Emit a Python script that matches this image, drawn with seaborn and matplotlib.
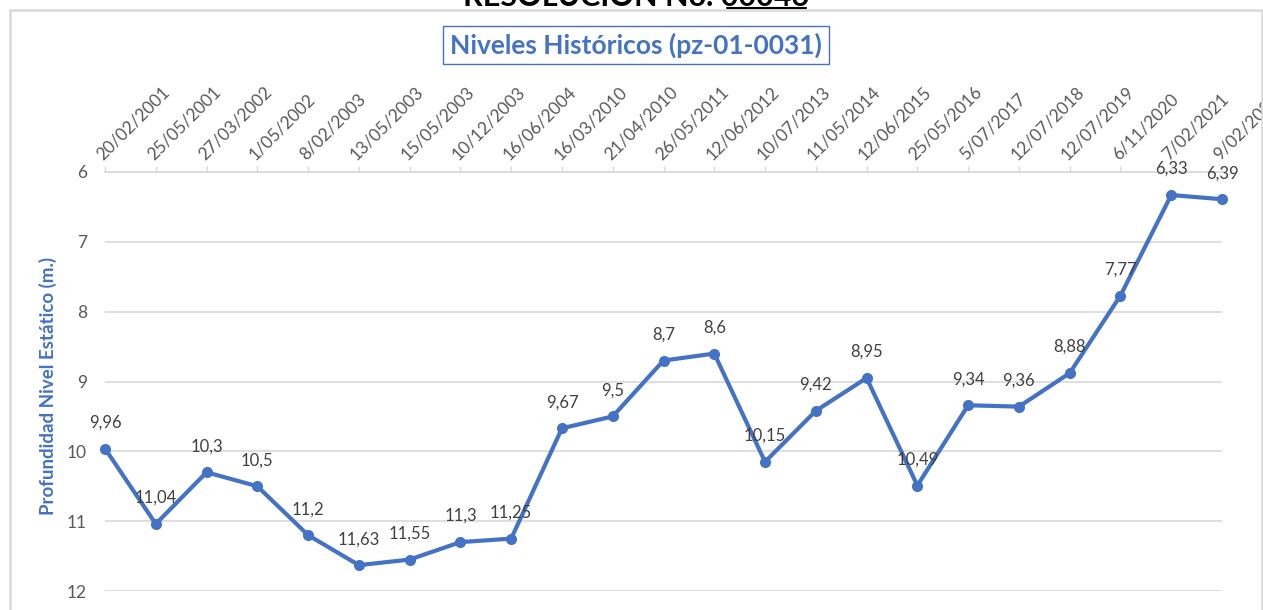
import matplotlib
matplotlib.use("Agg")
import matplotlib.pyplot as plt
from matplotlib.lines import Line2D
from matplotlib.patches import Rectangle
import seaborn as sns
import pandas as pd

fechas = ['20/02/2001', '25/05/2001', '27/03/2002', '1/05/2002', '8/02/2003',
          '13/05/2003', '15/05/2003', '10/12/2003', '16/06/2004', '16/03/2010',
          '21/04/2010', '26/05/2011', '12/06/2012', '10/07/2013', '11/05/2014',
          '12/06/2015', '25/05/2016', '5/07/2017', '12/07/2018', '12/07/2019',
          '6/11/2020', '7/02/2021', '9/02/2022']
profundidad = [9.96, 11.04, 10.3, 10.5, 11.2, 11.63, 11.55, 11.3, 11.25, 9.67,
               9.5, 8.7, 8.6, 10.15, 9.42, 8.95, 10.49, 9.34, 9.36, 8.88,
               7.77, 6.33, 6.39]
y_ticks = [6, 7, 8, 9, 10, 11, 12]

azul = '#4472C4'
gris = '#d9d9d9'

sns.set_theme(style='white')
plt.rcParams['font.family'] = ['Lato', 'DejaVu Sans']

df = pd.DataFrame({'pos': range(len(fechas)), 'nivel': profundidad})

W, H = 1263, 610
fig = plt.figure(figsize=(W / 100, H / 100), dpi=100)
ax = fig.add_axes([105 / W, 1 - 591 / H, (1222 - 105) / W, (591 - 172) / H])

sns.lineplot(data=df, x='pos', y='nivel', ax=ax, color=azul, linewidth=3,
             marker='o', markersize=8, markeredgewidth=0, clip_on=False, zorder=3)

ax.set_xlim(0, len(fechas) - 1)
ax.set_ylim(12, 6)
ax.set_yticks(y_ticks)
ax.set_yticklabels([str(t) for t in y_ticks], color='#595959', fontsize=12.5)
ax.yaxis.grid(True, color=gris, linewidth=1.2)
ax.xaxis.grid(False)
ax.tick_params(axis='y', length=0, pad=13)

ax.xaxis.tick_top()
ax.set_xticks(range(len(fechas)))
ax.set_xticklabels(fechas, rotation=45, ha='left', va='bottom',
                   rotation_mode='anchor', color='#595959', fontsize=12.5)
ax.tick_params(axis='x', direction='out', length=4, color=gris, width=1, pad=3,
               top=True, bottom=False)

for s in ['left', 'right', 'bottom']:
    ax.spines[s].set_visible(False)
ax.spines['top'].set_color(gris)
ax.spines['top'].set_linewidth(1.2)

ax.set_xlabel('')
ax.set_ylabel('Profundidad Nivel Estático (m.)', color=azul, fontsize=13.5,
              fontweight='bold')
ax.yaxis.set_label_coords(-0.043, 0.49)

for i, v in enumerate(profundidad):
    ax.annotate(str(v).replace('.', ','), (i, v), xytext=(0, 26),
                textcoords='offset pixels', ha='center', va='center',
                color='#404040', fontsize=12, annotation_clip=False, zorder=4)

# titulo con recuadro
fig.text(636 / W, 1 - 45 / H, 'Niveles Históricos (pz-01-0031)', ha='center',
         va='center', color=azul, fontsize=19, fontweight='bold',
         bbox=dict(boxstyle='square,pad=0.25', fc='white', ec=azul, lw=1))

# borde del grafico
fig.add_artist(Rectangle((10 / W, -0.1), 1252 / W, 1.1 - 10 / H,
                         transform=fig.transFigure, fill=False, ec=gris, lw=1.8))

# encabezado cortado
fig.text(636 / W, 1 - 6 / H, 'RESOLUCIÓN No. 00046', ha='center',
         va='baseline', color='black', fontsize=22, fontweight='bold')
fig.add_artist(Line2D([727 / W, 806 / W], [1 - 7.5 / H, 1 - 7.5 / H],
                      transform=fig.transFigure, color='black', lw=1.5))

fig.savefig('out.png', dpi=100, facecolor='white')
